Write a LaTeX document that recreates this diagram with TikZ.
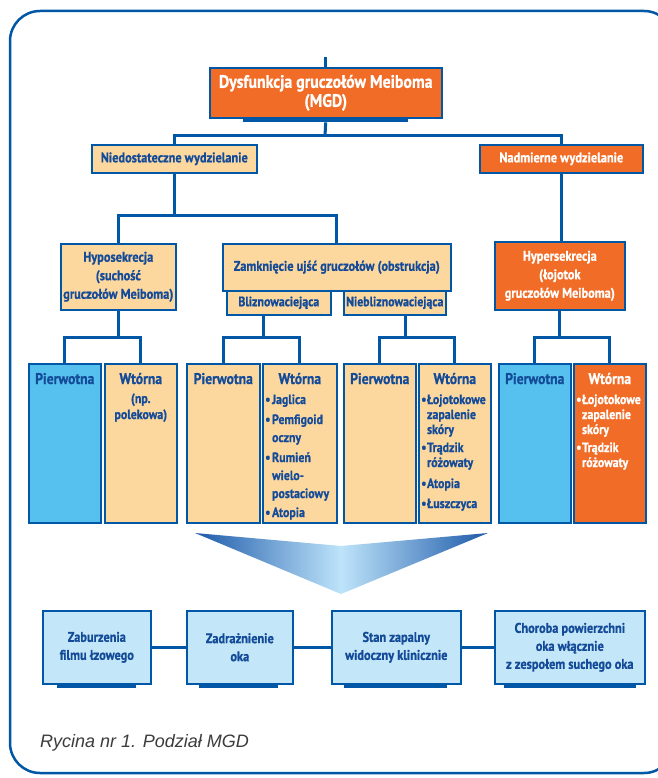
\documentclass[tikz,border=0pt]{standalone}
\usepackage{fontspec}
\setmainfont{PT Sans}
\newfontfamily\cond[FakeStretch=0.88, FakeBold=0.8]{PT Sans}
\newfontfamily\capfont{Liberation Sans}
\usetikzlibrary{calc}
\definecolor{bblue}{RGB}{0,87,166}
\definecolor{tblue}{RGB}{20,75,152}
\definecolor{orng}{RGB}{241,108,38}
\definecolor{lorng}{RGB}{253,216,158}
\definecolor{skyb}{RGB}{86,193,238}
\definecolor{paleb}{RGB}{195,230,248}
\definecolor{capgrey}{RGB}{60,60,60}
\definecolor{arrdark}{RGB}{30,90,170}
\definecolor{arrlight}{RGB}{190,228,250}
\newcommand\fs[2]{\fontsize{#1}{#2}\selectfont}
\begin{document}
\begin{tikzpicture}[x=1pt,y=-1pt,
  box/.style={draw=bblue, line width=1.6pt, inner sep=0pt, anchor=north west, align=center, text=tblue, font=\cond\bfseries\fs{14}{18}},
  sz/.style 2 args={minimum width=#1, minimum height=#2},
  lo/.style={fill=lorng},
  og/.style={fill=orng, text=white},
  sk/.style={fill=skyb},
  pb/.style={fill=paleb},
  bar/.style={fill=bblue, inner sep=0pt, anchor=north west},
  conn/.style={draw=bblue, line width=3pt},
  ttl/.style={anchor=base, inner sep=0pt, text=tblue, font=\cond\bfseries\fs{15.5}{18}},
  lst/.style={anchor=base west, inner sep=0pt, text=tblue, font=\cond\bfseries\fs{13.5}{15}},
]
\fill[white] (0,0) rectangle (657,778);
\useasboundingbox (0,0) rectangle (657,778);
\draw[bblue, line width=2.5pt, rounded corners=30pt] (10,11) rectangle (674,773);

% top
\node[box, og, sz={232}{50}, font=\cond\bfseries\fs{18}{19}] (mgd) at (209,67) {Dysfunkcja gruczołów Meiboma\\(MGD)};
\node[bar, sz={165}{5}] (mgdsh) at (243,117) {};
\coordinate (topend) at (325,57);
\draw[conn] (topend) -- (topend |- mgd.north);

% level 2
\node[box, lo, sz={165}{28}] (niedo) at (91,144) {Niedostateczne wydzielanie};
\node[box, og, sz={163}{28}] (nadm) at (479,144) {Nadmierne wydzielanie};
\coordinate (j0) at (325,136);
\draw[conn] (mgdsh.south) -- (j0);
\draw[conn] (niedo.north) |- (j0) -| (nadm.north);

% level 3
\node[box, lo, sz={115}{66}, font=\cond\bfseries\fs{14}{18.5}] (hypo) at (60,243) {Hyposekrecja\\(suchość\\gruczołów Meiboma)};
\node[box, lo, sz={228}{47}] (zamk) at (222,243) {Zamknięcie ujść gruczołów (obstrukcja)};
\node[box, lo, sz={104}{24}, font=\cond\bfseries\fs{13.5}{16}] (bliz) at (226,290) {Bliznowaciejąca};
\node[box, lo, sz={102}{24}, font=\cond\bfseries\fs{13.5}{16}] (niebl) at (343,290) {Niebliznowaciejąca};
\node[box, og, sz={130}{68}, font=\cond\bfseries\fs{14}{18.5}] (hyper) at (494,241) {Hypersekrecja\\(łojotok\\gruczołów Meiboma)};
\coordinate (j1) at (niedo.south |- 0,215);
\draw[conn] (niedo.south) -- (j1);
\draw[conn] (hypo.north) |- (j1) -| (zamk.north);
\draw[conn] (nadm.south) -- (nadm.south |- hyper.north);

% level 4 columns
\node[box, sk, sz={72}{159}] (p1) at (28,363) {};
\node[box, lo, sz={72}{159}] (w1) at (104,363) {};
\node[box, lo, sz={73}{159}] (p2) at (186,363) {};
\node[box, lo, sz={74}{159}] (w2) at (262,363) {};
\node[box, lo, sz={72}{159}] (p3) at (343,363) {};
\node[box, lo, sz={72}{159}] (w3) at (418,363) {};
\node[box, sk, sz={72}{159}] (p4) at (498,363) {};
\node[box, og, sz={72}{159}] (w4) at (573,363) {};

\coordinate (j2) at (hypo.south |- 0,337);
\draw[conn] (hypo.south) -- (j2);
\draw[conn] (p1.north) |- (j2) -| (w1.north);
\coordinate (j3) at (263,337);
\draw[conn] (j3) -- (j3 |- bliz.south);
\draw[conn] (p2.north) |- (j3) -| (w2.north);
\coordinate (j4) at (405,337);
\draw[conn] (j4) -- (j4 |- niebl.south);
\draw[conn] (p3.north) |- (j4) -| (w3.north);
\coordinate (j5) at (hyper.south |- 0,337);
\draw[conn] (hyper.south) -- (j5);
\draw[conn] (p4.north) |- (j5) -| (w4.north);

\node[ttl] (p1t) at (p1.north |- 0,384) {Pierwotna};
\node[ttl] (w1t) at (w1.north |- 0,384) {Wtórna};
\node[ttl] (p2t) at (p2.north |- 0,384) {Pierwotna};
\node[ttl] (w2t) at (w2.north |- 0,384) {Wtórna};
\node[ttl] (p3t) at (p3.north |- 0,384) {Pierwotna};
\node[ttl] (w3t) at (w3.north |- 0,384) {Wtórna};
\node[ttl] (p4t) at (p4.north |- 0,384) {Pierwotna};
\node[ttl, text=white] (w4t) at (w4.north |- 0,384) {Wtórna};

\node[ttl, font=\cond\bfseries\fs{13.5}{16}] (w1s) at (w1.north |- 0,403) {\begin{tabular}[t]{@{}c@{}}(np.\\polekowa)\end{tabular}};
\node[lst, font=\cond\bfseries\fs{13.5}{18}] (w2s) at (265,404) {\begin{tabular}[t]{@{}l@{\hspace{1.5pt}}l@{}}
•&Jaglica\\[2pt] •&Pemfigoid\\ &oczny\\[2pt] •&Rumień\\ &wielo-\\ &postaciowy\\[1pt] •&Atopia\end{tabular}};
\node[lst] (w3s) at (421,404) {\begin{tabular}[t]{@{}l@{\hspace{0.5pt}}l@{}}
•&Łojotokowe\\ &zapalenie\\ &skóry\\[3pt] •&Trądzik\\ &różowaty\\[6pt] •&Atopia\\[5pt] •&Łuszczyca\end{tabular}};
\node[lst, text=white] (w4s) at (576,404) {\begin{tabular}[t]{@{}l@{\hspace{0.5pt}}l@{}}
•&Łojotokowe\\ &zapalenie\\ &skóry\\[3pt] •&Trądzik\\ &różowaty\end{tabular}};

% arrow
\shade[left color=arrdark, right color=arrlight] (195,533) -- (341,546) -- (341,594) -- cycle;
\shade[left color=arrlight, right color=arrdark] (341,546) -- (488,533) -- (341,594) -- cycle;

% bottom row
\node[box, pb, sz={108}{73}] (b1) at (42,610) {Zaburzenia\\filmu łzowego};
\node[box, pb, sz={106}{73}] (b2) at (186,610) {Zadrażnienie\\oka};
\node[box, pb, sz={129}{73}] (b3) at (331,610) {Stan zapalny\\widoczny klinicznie};
\node[box, pb, sz={150}{73}] (b4) at (494,610) {Choroba powierzchni\\oka włącznie\\z zespołem suchego oka};
\node[bar, sz={79}{5}] (b1sh) at (57,683) {};
\node[bar, sz={79}{5}] (b2sh) at (199,683) {};
\node[bar, sz={103}{5}] (b3sh) at (344,683) {};
\node[bar, sz={132}{5}] (b4sh) at (504,683) {};
\draw[conn] (b1.east) -- (b2.west);
\draw[conn] (b2.east) -- (b3.west);
\draw[conn] (b3.east) -- (b4.west);

\node[anchor=base west, inner sep=0pt, font=\capfont\itshape\fs{18}{20}, text=capgrey] (cap) at (40,747) {Rycina nr 1. Podział MGD};
\end{tikzpicture}
\end{document}
